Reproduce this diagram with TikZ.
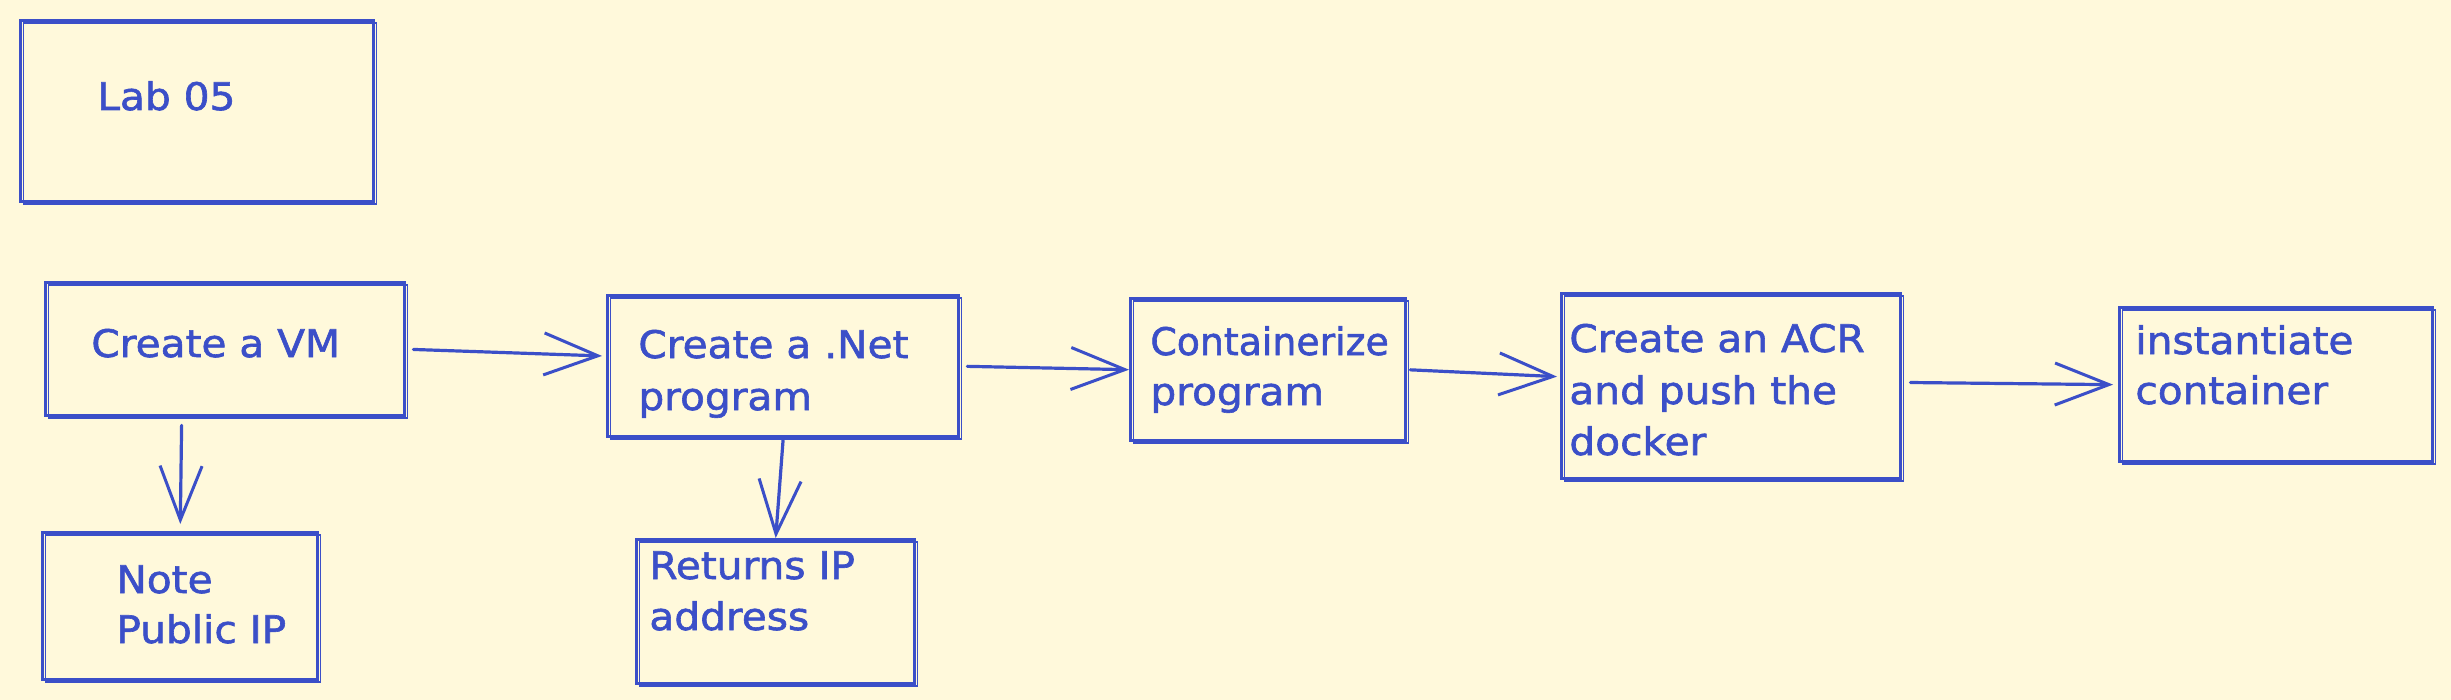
\documentclass[tikz,border=0pt]{standalone}
\usepackage{fontspec}
\usepackage{graphicx}
\setmainfont{DejaVu Sans}[FakeStretch=1.07, FakeBold=1.6]
\usetikzlibrary{arrows.meta,calc}
\definecolor{ink}{HTML}{3B4FC8}
\definecolor{paper}{HTML}{FFF9DB}
\begin{document}
\begin{tikzpicture}[x=0.5pt,y=-0.5pt,
  box/.style={draw=ink, line width=1.7pt, rectangle, inner sep=0pt, anchor=north west,
    preaction={draw=ink, line width=0.7pt, transform canvas={xshift=1.5pt,yshift=-1.2pt}}},
  txt/.style={text=ink, font=\fontsize{19}{26}\selectfont, anchor=base west, inner sep=0pt},
  arr/.style={draw=ink, line width=1.6pt, line cap=round,
    -{Straight Barb[length=27pt,width=21pt,line width=1.5pt]}}]
\useasboundingbox[fill=paper] (0,0) rectangle (2451,700);

% boxes
\node[box, minimum width=176.5pt, minimum height=90.5pt] (lab)  at (19,19) {};
\node[box, minimum width=179.5pt, minimum height=66.5pt] (vm)   at (44,281) {};
\node[box, minimum width=137.5pt, minimum height=73.5pt] (note) at (41,531) {};
\node[box, minimum width=175.5pt, minimum height=70.5pt] (net)  at (606,294) {};
\node[box, minimum width=139pt,   minimum height=72pt]   (ret)  at (635,538) {};
\node[box, minimum width=137.5pt, minimum height=71pt]   (cont) at (1129,297) {};
\node[box, minimum width=169.5pt, minimum height=92.5pt] (acr)  at (1560,292) {};
\node[box, minimum width=156.5pt, minimum height=77pt]   (inst) at (2118,306) {};

% texts
\node[txt] (tlab) at (97,110) {Lab 05};
\node[txt] (tvm) at (91,357) {Create a VM};
\node[txt] (tnote1) at (116,593) {Note};
\node[txt] (tnote2) at (116,643) {Public IP};
\node[txt] (tnet1) at (638,358) {Create a .Net};
\node[txt] (tnet2) at (638,410) {program};
\node[txt] (tret1) at (649,579) {Returns IP};
\node[txt] (tret2) at (649,630) {address};
\node[txt] (tcont1) at (1150,355) {\scalebox{0.93}[1]{Containerize}};
\node[txt] (tcont2) at (1150,405) {program};
\node[txt] (tacr1) at (1569,352) {Create an ACR};
\node[txt] (tacr2) at (1569,404) {and push the};
\node[txt] (tacr3) at (1569,455) {docker};
\node[txt] (tinst1) at (2135,354) {instantiate};
\node[txt] (tinst2) at (2135,404) {container};

% connectors
\draw[arr, shorten <=3.5pt, shorten >=2pt] (vm.east) -- ($(net.north west)!0.43!(net.south west)$);
\draw[arr, shorten <=3.5pt, shorten >=0pt] (net.east) -- (cont.west);
\draw[arr, shorten <=1.5pt, shorten >=1.5pt] (cont.east) -- ($(acr.north west)!0.45!(acr.south west)$);
\draw[arr, shorten <=4pt, shorten >=2.5pt] ($(acr.north east)!0.48!(acr.south east)$) -- (inst.west);
\draw[arr, shorten <=4pt, shorten >=3.5pt] ($(vm.south west)!0.38!(vm.south east)$) -- (note.north);
\draw[arr, shorten <=1pt, shorten >=0pt] (net.south) -- (ret.north);
\end{tikzpicture}
\end{document}
